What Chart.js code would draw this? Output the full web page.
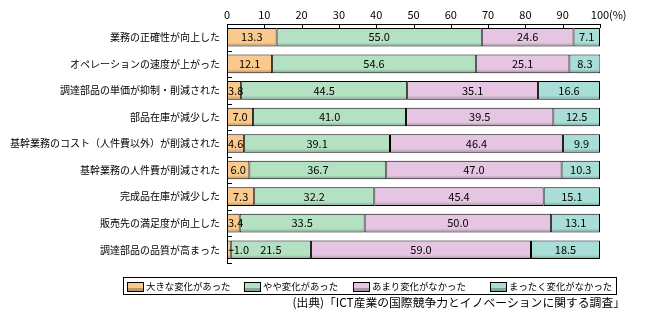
<!DOCTYPE html>
<html>
<head>
<meta charset="utf-8">
<script src="https://cdn.jsdelivr.net/npm/chart.js@4/dist/chart.umd.min.js"></script>
<style>
  html, body { margin: 0; padding: 0; background: #fff; }
  #wrap { width: 650px; height: 328px; }
</style>
</head>
<body>
<div id="wrap"><canvas id="c" width="650" height="328"></canvas></div>
<script>
// categories (top to bottom)
const categories = [
  '業務の正確性が向上した',
  'オペレーションの速度が上がった',
  '調達部品の単価が抑制・削減された',
  '部品在庫が減少した',
  '基幹業務のコスト（人件費以外）が削減された',
  '基幹業務の人件費が削減された',
  '完成品在庫が減少した',
  '販売先の満足度が向上した',
  '調達部品の品質が高まった',
];

const seriesNames = ['大きな変化があった', 'やや変化があった', 'あまり変化がなかった', 'まったく変化がなかった'];
const bigChange   = [13.3, 12.1, 3.8, 7.0, 4.6, 6.0, 7.3, 3.4, 1.0];
const someChange  = [55.0, 54.6, 44.5, 41.0, 39.1, 36.7, 32.2, 33.5, 21.5];
const littleChange= [24.6, 25.1, 35.1, 39.5, 46.4, 47.0, 45.4, 50.0, 59.0];
const noChange    = [7.1, 8.3, 16.6, 12.5, 9.9, 10.3, 15.1, 13.1, 18.5];
const xTicks      = [0, 10, 20, 30, 40, 50, 60, 70, 80, 90, 100];

const COLORS = ['#fac98d', '#b3e1c2', '#e5c5e1', '#a8ded7'];
const FONT = '"Noto Sans CJK JP", "Noto Sans", sans-serif';
const SOURCE = '(出典)「ICT産業の国際競争力とイノベーションに関する調査」';

// axis lines, ticks, bar shading, value labels, legend, source note
const decorate = {
  id: 'decorate',
  afterDatasetsDraw(chart) {
    const { ctx, chartArea: a, scales: { x, y } } = chart;
    ctx.save();

    // bottom shading of each bar
    chart.data.datasets.forEach((ds, di) => {
      chart.getDatasetMeta(di).data.forEach(el => {
        const left = Math.min(el.x, el.base), right = Math.max(el.x, el.base);
        const bottom = el.y + el.height / 2;
        const g = ctx.createLinearGradient(0, bottom - 4, 0, bottom);
        g.addColorStop(0, 'rgba(0,0,0,0)');
        g.addColorStop(1, 'rgba(0,0,0,0.28)');
        ctx.fillStyle = g;
        ctx.fillRect(left + 1, bottom - 4, right - left - 2, 3);
      });
    });

    // value labels
    ctx.font = '11px ' + FONT;
    ctx.fillStyle = '#000';
    ctx.textBaseline = 'middle';
    chart.data.datasets.forEach((ds, di) => {
      chart.getDatasetMeta(di).data.forEach((el, i) => {
        const v = ds.data[i];
        const txt = v.toFixed(1);
        const left = Math.min(el.x, el.base), right = Math.max(el.x, el.base);
        const w = ctx.measureText(txt).width;
        if (right - left < 6) {
          // leader line for tiny segments
          ctx.strokeStyle = '#000';
          ctx.lineWidth = 1;
          ctx.beginPath();
          ctx.moveTo((left + right) / 2, el.y + 0.5);
          ctx.lineTo(right + 3, el.y + 0.5);
          ctx.stroke();
          ctx.textAlign = 'left';
          ctx.fillText(txt, right + 3, el.y);
        } else if (w > right - left - 2) {
          ctx.textAlign = 'left';
          ctx.fillText(txt, left + 1, el.y);
        } else {
          ctx.textAlign = 'center';
          ctx.fillText(txt, (left + right) / 2, el.y);
        }
      });
    });

    // axes
    ctx.strokeStyle = '#000';
    ctx.lineWidth = 1;
    ctx.beginPath();
    ctx.moveTo(a.left + 0.5, a.top);
    ctx.lineTo(a.left + 0.5, a.bottom);
    ctx.moveTo(a.left, a.top + 0.5);
    ctx.lineTo(a.right, a.top + 0.5);
    xTicks.forEach(t => {
      const px = Math.round(x.getPixelForValue(t)) + 0.5;
      ctx.moveTo(px, a.top);
      ctx.lineTo(px, a.top + 4);
    });
    for (let i = 0; i <= categories.length; i++) {
      const py = Math.round(y.getPixelForValue(i - 0.5)) + 0.5;
      ctx.moveTo(a.left, py);
      ctx.lineTo(a.left + 5, py);
    }
    ctx.stroke();

    // (%) unit
    ctx.font = '11px ' + FONT;
    ctx.textAlign = 'left';
    ctx.textBaseline = 'middle';
    ctx.fillText('(%)', x.getPixelForValue(100) + 9, 15);

    // legend
    const lx = 123, ly = 277, lw = 493, lh = 17;
    ctx.strokeRect(lx + 0.5, ly + 0.5, lw, lh);
    const itemX = [127, 244, 353, 490];
    seriesNames.forEach((name, i) => {
      const sx = itemX[i], sy = ly + 5;
      ctx.fillStyle = COLORS[i];
      ctx.fillRect(sx, sy, 16, 9);
      ctx.fillStyle = 'rgba(0,0,0,0.25)';
      ctx.fillRect(sx, sy + 6, 16, 3);
      ctx.strokeRect(sx + 0.5, sy + 0.5, 16, 9);
      ctx.fillStyle = '#000';
      ctx.font = '9.4px ' + FONT;
      ctx.textAlign = 'left';
      ctx.fillText(name, sx + 19, ly + 9.5);
    });

    // source
    ctx.font = '11.8px ' + FONT;
    ctx.textAlign = 'right';
    ctx.fillText(SOURCE, 625, 303);
    ctx.restore();
  }
};

new Chart(document.getElementById('c'), {
  type: 'bar',
  data: {
    labels: categories,
    datasets: [bigChange, someChange, littleChange, noChange].map((d, i) => ({
      label: seriesNames[i],
      data: d,
      backgroundColor: COLORS[i],
      borderColor: '#000',
      borderWidth: 1,
      borderSkipped: false,
      categoryPercentage: 1,
      barPercentage: 0.7,
    })),
  },
  options: {
    indexAxis: 'y',
    responsive: false,
    animation: false,
    layout: { padding: { left: 0, top: 0, right: 50, bottom: 65 } },
    plugins: { legend: { display: false }, tooltip: { enabled: false } },
    scales: {
      x: {
        position: 'top',
        stacked: true,
        min: 0,
        max: 100,
        afterBuildTicks: s => { s.ticks = xTicks.map(v => ({ value: v })); },
        afterFit: s => { s.height = 24; },
        grid: { display: false, drawTicks: false },
        border: { display: false },
        ticks: { color: '#000', padding: 3, font: { family: FONT, size: 11 } },
      },
      y: {
        stacked: true,
        afterFit: s => { s.width = 227; },
        grid: { display: false, drawTicks: false },
        border: { display: false },
        ticks: { color: '#000', padding: 7, font: { family: FONT, size: 10 } },
      },
    },
  },
  plugins: [decorate],
});
</script>
</body>
</html>
